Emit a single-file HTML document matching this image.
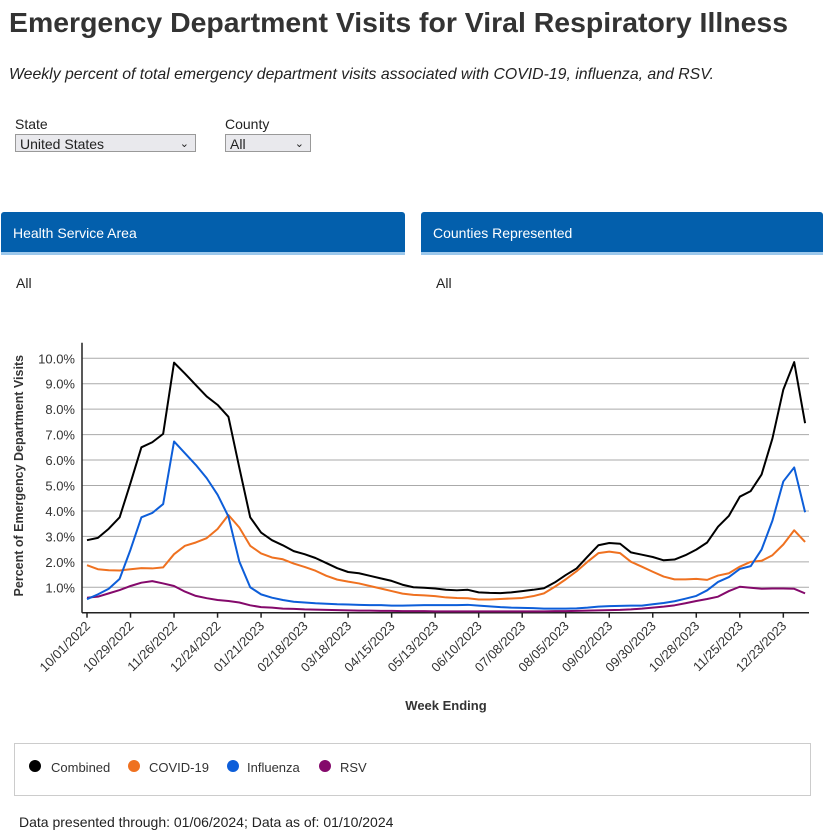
<!DOCTYPE html>
<html><head><meta charset="utf-8"><style>
body{margin:0;width:823px;height:821px;overflow:hidden;background:#fff;font-family:"Liberation Sans",Arial,sans-serif;position:relative;color:#222}
.abs{position:absolute}
.sel{position:absolute;height:18px;border:1px solid #999;background:#e9e9ed;font-size:14px;line-height:18px;padding-left:4px;box-sizing:border-box}
.sel span{position:absolute;right:6px;top:0;font-size:11px}
.panel{position:absolute;top:212px;height:43px;background:#035fac;border-bottom:3px solid #9cc8ec;border-radius:3px 3px 0 0;box-sizing:border-box;color:#fff;font-size:14px;padding:13px 0 0 12px}
</style></head><body>
<svg class="abs" style="left:0;top:0" width="823" height="100">
<text x="9" y="32" font-size="28" font-weight="bold" fill="#333" textLength="779" lengthAdjust="spacingAndGlyphs">Emergency Department Visits for Viral Respiratory Illness</text>
<text x="9" y="79" font-size="16" font-style="italic" fill="#222" textLength="705" lengthAdjust="spacingAndGlyphs">Weekly percent of total emergency department visits associated with COVID-19, influenza, and RSV.</text>
</svg>
<div class="abs" style="left:15px;top:116px;font-size:14px">State</div>
<div class="sel" style="left:15px;top:134px;width:181px">United States<span>&#8964;</span></div>
<div class="abs" style="left:225px;top:116px;font-size:14px">County</div>
<div class="sel" style="left:225px;top:134px;width:86px">All<span>&#8964;</span></div>
<div class="panel" style="left:1px;width:404px">Health Service Area</div>
<div class="panel" style="left:421px;width:402px">Counties Represented</div>
<div class="abs" style="left:16px;top:275px;font-size:14px">All</div>
<div class="abs" style="left:436px;top:275px;font-size:14px">All</div>
<svg id="chart" class="abs" style="left:0;top:330px" width="823" height="390"></svg>
<div class="abs" style="left:14px;top:743px;width:797px;height:53px;border:1px solid #ccc;box-sizing:border-box">
<svg width="795" height="51">
<g><circle cx="20" cy="22" r="6" fill="#000"/><text x="36" y="28" font-size="13" fill="#333">Combined</text></g>
<g><circle cx="119" cy="22" r="6" fill="#ef7120"/><text x="134" y="28" font-size="13" fill="#333">COVID-19</text></g>
<g><circle cx="218" cy="22" r="6" fill="#0d5ed9"/><text x="232" y="28" font-size="13" fill="#333">Influenza</text></g>
<g><circle cx="310" cy="22" r="6" fill="#84096b"/><text x="325" y="28" font-size="13" fill="#333">RSV</text></g>
</svg></div>
<div class="abs" style="left:19px;top:814px;font-size:14px">Data presented through: 01/06/2024; Data as of: 01/10/2024</div>
<script>
const tickLabels=["10/01/2022","10/29/2022","11/26/2022","12/24/2022","01/21/2023","02/18/2023","03/18/2023","04/15/2023","05/13/2023","06/10/2023","07/08/2023","08/05/2023","09/02/2023","09/30/2023","10/28/2023","11/25/2023","12/23/2023"];
const yTicks=[1,2,3,4,5,6,7,8,9,10];
const combined=[2.85,2.94,3.3,3.75,5.1,6.5,6.7,7.03,9.83,9.4,8.95,8.5,8.17,7.7,5.7,3.75,3.15,2.85,2.65,2.42,2.3,2.15,1.95,1.75,1.6,1.55,1.45,1.35,1.25,1.1,1.0,0.98,0.95,0.9,0.88,0.9,0.8,0.78,0.77,0.8,0.85,0.9,0.96,1.19,1.48,1.74,2.2,2.65,2.74,2.71,2.37,2.28,2.19,2.06,2.09,2.26,2.48,2.76,3.38,3.81,4.56,4.78,5.43,6.85,8.77,9.85,7.45];
const covid=[1.87,1.71,1.67,1.66,1.71,1.75,1.74,1.78,2.3,2.63,2.76,2.93,3.29,3.84,3.35,2.63,2.33,2.17,2.1,1.93,1.8,1.65,1.45,1.3,1.22,1.15,1.05,0.95,0.85,0.75,0.7,0.68,0.65,0.6,0.58,0.57,0.52,0.52,0.54,0.56,0.58,0.65,0.76,1.02,1.31,1.63,2.0,2.34,2.4,2.34,2.0,1.81,1.61,1.42,1.31,1.31,1.33,1.29,1.46,1.55,1.81,2.0,2.04,2.26,2.68,3.24,2.78];
const influenza=[0.53,0.72,0.94,1.33,2.48,3.75,3.92,4.27,6.73,6.27,5.81,5.29,4.64,3.78,2.01,1.0,0.72,0.59,0.5,0.43,0.4,0.37,0.35,0.33,0.32,0.31,0.3,0.3,0.28,0.28,0.29,0.3,0.3,0.3,0.3,0.31,0.28,0.25,0.22,0.2,0.19,0.18,0.16,0.16,0.16,0.17,0.2,0.24,0.26,0.27,0.28,0.28,0.33,0.38,0.45,0.55,0.66,0.88,1.21,1.4,1.72,1.83,2.48,3.62,5.16,5.71,3.95];
const rsv=[0.59,0.63,0.76,0.89,1.05,1.18,1.24,1.15,1.05,0.83,0.66,0.57,0.5,0.46,0.4,0.29,0.22,0.2,0.16,0.15,0.13,0.12,0.11,0.1,0.09,0.08,0.08,0.07,0.07,0.06,0.06,0.06,0.05,0.05,0.05,0.05,0.05,0.05,0.05,0.05,0.05,0.05,0.05,0.06,0.06,0.07,0.08,0.09,0.1,0.11,0.13,0.16,0.2,0.24,0.29,0.37,0.46,0.54,0.63,0.85,1.02,0.98,0.94,0.95,0.95,0.94,0.76];
const NS='http://www.w3.org/2000/svg';
const svg=document.getElementById('chart');
const OY=330;
const x0=87,xStep=10.88,xL=82,xR=809;
const yZero=612.7-OY,yPer=25.44;
const xs=i=>x0+i*xStep;
const ys=v=>yZero-v*yPer;
function mk(tag,attrs,parent){const e=document.createElementNS(NS,tag);for(const k in attrs)e.setAttribute(k,attrs[k]);(parent||svg).appendChild(e);return e;}
yTicks.forEach(v=>{
  const l=mk('line',{x1:xL,x2:xR,y1:ys(v),y2:ys(v),stroke:'#aaa','stroke-width':1});
  
  
  const t=mk('text',{x:75,y:ys(v)+5,'text-anchor':'end','font-size':13,fill:'#333'});
  t.textContent=v.toFixed(1)+'%';
  
  
});
const ax=mk('line',{x1:xL,x2:xL,y1:yZero-270,y2:yZero,stroke:'#222','stroke-width':1.5});


const bx=mk('line',{x1:xL,x2:xR,y1:yZero,y2:yZero,stroke:'#222','stroke-width':1.5});


tickLabels.forEach((lab,k)=>{
  const x=xs(k*4);
  const tk=mk('line',{x1:x,x2:x,y1:yZero,y2:yZero+5,stroke:'#222','stroke-width':1.5});
  
  
  const t=mk('text',{x:x+4,y:yZero+14,'text-anchor':'end','font-size':13,fill:'#333',transform:`rotate(-45 ${x+4} ${yZero+14})`});
  t.textContent=lab;
  
  
});
const yt=mk('text',{x:0,y:0,'text-anchor':'middle','font-size':12.5,'font-weight':'bold',fill:'#333',transform:`translate(23 ${yZero-137}) rotate(-90)`});
yt.textContent='Percent of Emergency Department Visits';


const xt=mk('text',{x:446,y:380,'text-anchor':'middle','font-size':13,'font-weight':'bold',fill:'#333'});
xt.textContent='Week Ending';


[[rsv,'#84096b','rsv-line'],[covid,'#ef7120','covid-line'],[influenza,'#0d5ed9','influenza-line'],[combined,'#000','combined-line']].forEach(([d,c,n])=>{
  const p=mk('polyline',{points:d.map((v,i)=>xs(i)+','+ys(v)).join(' '),fill:'none',stroke:c,'stroke-width':2,'stroke-linejoin':'round'});
  
  
});
</script>
</body></html>
